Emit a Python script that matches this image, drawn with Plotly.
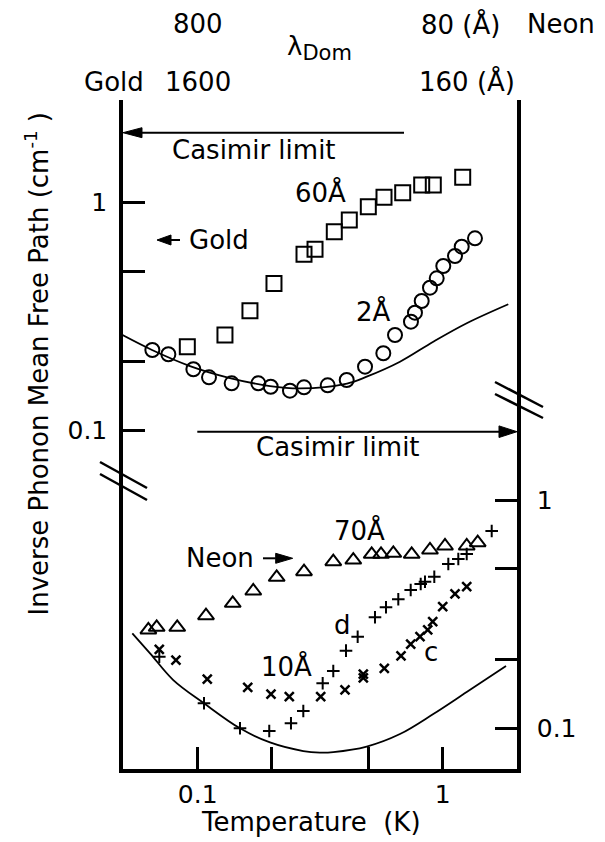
import numpy as np
import plotly.graph_objects as go

# ---------------- data ----------------
# Gold, 60 Å film (squares) -> left axis
gold60_T = [0.0907, 0.1292, 0.1634, 0.2048, 0.2716, 0.3012, 0.3610, 0.4157,
            0.4970, 0.5760, 0.6867, 0.8209, 0.9154, 1.2068]
gold60_v = [0.233, 0.262, 0.335, 0.442, 0.593, 0.624, 0.746, 0.839,
            0.960, 1.056, 1.106, 1.196, 1.196, 1.293]

# Gold, 2 Å film (circles) -> left axis
gold2_T = [0.0653, 0.0759, 0.0960, 0.1112, 0.1376, 0.1768, 0.1986, 0.2380,
           0.2716, 0.3393, 0.4057, 0.4819, 0.5723, 0.6388, 0.7421, 0.7706,
           0.8209, 0.8874, 0.9452, 1.0056, 1.1226, 1.1957, 1.3544]
gold2_v = [0.2254, 0.2158, 0.1854, 0.1709, 0.1609, 0.1609, 0.1554, 0.1493,
           0.1545, 0.1576, 0.1663, 0.1903, 0.2180, 0.2622, 0.3000, 0.3286,
           0.3699, 0.4232, 0.4654, 0.5270, 0.5832, 0.6407, 0.6976]

# Gold, reference curve (solid line) -> left axis
goldcurve_T = [0.0493, 0.0651, 0.0930, 0.1354, 0.1973, 0.2617, 0.4068,
               0.4895, 0.6693, 0.9154, 1.2531, 1.8524]
goldcurve_v = [0.2622, 0.2254, 0.1916, 0.1697, 0.1565, 0.1527, 0.1605,
               0.1720, 0.2001, 0.2450, 0.2953, 0.3578]

# Neon, 70 Å film (triangles) -> right axis
neon70_T = [0.0629, 0.0680, 0.0825, 0.1081, 0.1390, 0.1686, 0.2101, 0.2716,
            0.3576, 0.4316, 0.5130, 0.5601, 0.6287, 0.7471, 0.8874, 1.0219,
            1.2531, 1.3895]
neon70_v = [0.2696, 0.2769, 0.2769, 0.3113, 0.3528, 0.3994, 0.4585, 0.4852,
            0.5366, 0.5459, 0.5782, 0.5782, 0.5841, 0.5782, 0.6039, 0.6288,
            0.6288, 0.6501]

# Neon, 10 Å film, sample d (+) -> right axis
neon10d_T = [0.0697, 0.1061, 0.1488, 0.1959, 0.2403, 0.2698, 0.3237, 0.3576,
             0.4030, 0.4497, 0.5292, 0.5869, 0.6588, 0.7403, 0.8133, 0.8467,
             0.9241, 1.0541, 1.1580, 1.2531, 1.5849]
neon10d_v = [0.2059, 0.1287, 0.1000, 0.0973, 0.1052, 0.1191, 0.1574, 0.1782,
             0.2188, 0.2518, 0.3063, 0.3388, 0.3673, 0.4035, 0.4286, 0.4386,
             0.4613, 0.5244, 0.5514, 0.5799, 0.7315]

# Neon, 10 Å film, sample c (x) -> right axis
neon10c_T = [0.0697, 0.0815, 0.1094, 0.1600, 0.1991, 0.2365, 0.3177, 0.3993,
             0.4742, 0.4742, 0.5776, 0.6758, 0.7403, 0.8078, 0.8685, 0.9104,
             1.0000, 1.1226, 1.2531]
neon10c_v = [0.2218, 0.1991, 0.1644, 0.1512, 0.1413, 0.1375, 0.1375, 0.1472,
             0.1729, 0.1661, 0.1832, 0.2074, 0.2340, 0.2518, 0.2696, 0.2930,
             0.3408, 0.3876, 0.4171]

# Neon, reference curve (solid line) -> right axis
neoncurve_T = [0.0541, 0.0639, 0.0795, 0.1061, 0.1488, 0.1973, 0.2698, 0.3155,
               0.3576, 0.4895, 0.6693, 0.9154, 1.2531, 1.8131]
neoncurve_v = [0.2607, 0.2131, 0.1627, 0.1287, 0.1000, 0.0867, 0.0795, 0.0783,
               0.0787, 0.0832, 0.0944, 0.1155, 0.1442, 0.1875]

# axis ticks
x_major = [0.1, 1]
x_major_text = ["0.1", "1"]
x_minor = [0.2, 0.5]
y_major = [0.1, 1]
y_major_text = ["0.1", "1"]
y_minor = [0.2, 0.5]

# ---------------- figure ----------------
FONT = "DejaVu Sans"
BLACK = "black"
L, R, T, B = 123, 88, 100, 73
W, H = 605, 842

fig = go.Figure()

fig.add_trace(go.Scatter(x=goldcurve_T, y=goldcurve_v, mode="lines",
                         line=dict(color=BLACK, width=1.8, shape="spline"),
                         xaxis="x", yaxis="y", showlegend=False))
fig.add_trace(go.Scatter(x=neoncurve_T, y=neoncurve_v, mode="lines",
                         line=dict(color=BLACK, width=1.8, shape="spline"),
                         xaxis="x", yaxis="y2", showlegend=False))

fig.add_trace(go.Scatter(x=gold60_T, y=gold60_v, mode="markers",
                         marker=dict(symbol="square-open", size=15, color=BLACK,
                                     line=dict(width=2, color=BLACK)),
                         xaxis="x", yaxis="y", showlegend=False))
fig.add_trace(go.Scatter(x=gold2_T, y=gold2_v, mode="markers",
                         marker=dict(symbol="circle-open", size=14, color=BLACK,
                                     line=dict(width=2, color=BLACK)),
                         xaxis="x", yaxis="y", showlegend=False))
fig.add_trace(go.Scatter(x=neon70_T, y=neon70_v, mode="markers",
                         marker=dict(symbol="triangle-up-open", size=14, color=BLACK,
                                     line=dict(width=2, color=BLACK)),
                         xaxis="x", yaxis="y2", showlegend=False))
fig.add_trace(go.Scatter(x=neon10d_T, y=neon10d_v, mode="markers",
                         marker=dict(symbol="cross-thin-open", size=9, color=BLACK,
                                     line=dict(width=2, color=BLACK)),
                         xaxis="x", yaxis="y2", showlegend=False))
fig.add_trace(go.Scatter(x=neon10c_T, y=neon10c_v, mode="markers",
                         marker=dict(symbol="x-thin-open", size=9, color=BLACK,
                                     line=dict(width=2.5, color=BLACK)),
                         xaxis="x", yaxis="y2", showlegend=False))

xr = [-1.3049, 0.30327]
tick_style = dict(ticks="inside", ticklen=22, tickwidth=3, tickcolor=BLACK)
axis_common = dict(type="log", showgrid=False, zeroline=False, showline=True,
                   linecolor=BLACK, linewidth=3.5, tickmode="array",
                   tickfont=dict(family=FONT, size=25, color=BLACK), **tick_style)

def minor(vals):
    return dict(tickmode="array", tickvals=vals, showgrid=False, **tick_style)

fig.update_layout(
    width=W, height=H, autosize=False,
    margin=dict(l=L, r=R, t=T, b=B, pad=0),
    paper_bgcolor="white", plot_bgcolor="white",
    font=dict(family=FONT, size=26, color=BLACK),
    xaxis=dict(axis_common, range=xr, tickvals=x_major, ticktext=x_major_text,
               minor=minor(x_minor), ticklabelstandoff=0),
    xaxis2=dict(axis_common, range=xr, overlaying="x", side="top", matches="x",
                tickvals=x_major, minor=minor(x_minor), showticklabels=False),
    yaxis=dict(axis_common, range=[-2.48814, 0.45123], tickvals=y_major,
               ticktext=y_major_text, minor=minor(y_minor), ticklabelstandoff=7),
    yaxis2=dict(axis_common, range=[-1.17827, 1.75208], overlaying="y", side="right",
                tickvals=y_major, ticktext=y_major_text, minor=minor(y_minor),
                ticklabelstandoff=11),
)

def py(p):
    """paper y from pixel row"""
    return (H - B - p) / (H - T - B)

def px(p):
    return (p - L) / (W - L - R)

ann = []
def text(x, y, s, xref="x", yref="y", **kw):
    d = dict(x=x, y=y, text=s, xref=xref, yref=yref, showarrow=False,
             font=dict(family=FONT, size=26, color=BLACK),
             xanchor="center", yanchor="middle")
    d.update(kw)
    ann.append(d)

# gold panel
text(-0.7702, 0.2315, "Casimir limit")
text(-0.5008, 0.047, "60Å")
text(-0.913, -0.1639, "Gold")
text(-0.2845, -0.4802, "2Å")
text(-0.4271, -1.072, "Casimir limit")
# neon panel
text(-0.3408, -0.1314, "70Å", yref="y2")
text(-0.907, -0.2554, "Neon", yref="y2")
text(-0.409, -0.5475, "d", yref="y2")
text(-0.6396, -0.7271, "10Å", yref="y2")
text(-0.0498, -0.665, "c", yref="y2")

# top wavelength labels
text(-1, py(24), "800", yref="paper")
text(-1, py(82), "1600", yref="paper")
text(px(113.5), py(82), "Gold", xref="paper", yref="paper")
text(0.0706, py(24), "80 (Å)", yref="paper")
text(0.0992, py(82), "160 (Å)", yref="paper")
text(px(561), py(24), "Neon", xref="paper", yref="paper")
text(px(319.5), py(48), "λ<sub><span style='font-size:21px'>Dom</span></sub>",
     xref="paper", yref="paper")

# axis titles
text(px(311), py(822), "Temperature\u00a0\u00a0(K)", xref="paper", yref="paper")
text(px(38), py(364.5), "Inverse Phonon Mean Free Path (cm<sup>-1</sup> )",
     xref="paper", yref="paper", textangle=-90)

fig.update_layout(annotations=ann)

shapes = []
def line_px(x0, y0, x1, y1, w=2):
    shapes.append(dict(type="line", xref="paper", yref="paper",
                       x0=px(x0), y0=py(y0), x1=px(x1), y1=py(y1),
                       line=dict(color=BLACK, width=w)))

def arrow_px(x_tail, x_head, y, head_len, half_h, w=2):
    d = -1 if x_head < x_tail else 1
    base = x_head - d * head_len
    line_px(x_tail, y, base, y, w)
    path = "M {:.5f},{:.5f} L {:.5f},{:.5f} L {:.5f},{:.5f} Z".format(
        px(x_head), py(y), px(base), py(y - half_h), px(base), py(y + half_h))
    shapes.append(dict(type="path", xref="paper", yref="paper", path=path,
                       fillcolor=BLACK, line=dict(color=BLACK, width=1)))

# arrows (Casimir limits, Gold, Neon)
arrow_px(404, 123, 132.7, 19, 5)
arrow_px(197.3, 517, 431.7, 18, 5.8)
arrow_px(180, 157, 240, 14, 5)
arrow_px(263, 292.7, 558.3, 17, 5)

# "|" connectors between the two rows of top labels
for xv in (-1, 0):
    shapes.append(dict(type="line", xref="x", yref="paper", x0=xv, x1=xv,
                       y0=py(63), y1=py(48), line=dict(color=BLACK, width=2)))
# axis break marks
for (x0, y0, x1, y1) in [(100, 462, 147, 488), (100, 474, 147, 500),
                         (495, 382, 543, 407), (495, 394, 543, 418)]:
    line_px(x0, y0, x1, y1, 2.5)
fig.update_layout(shapes=shapes)

fig.write_html("out.html")
